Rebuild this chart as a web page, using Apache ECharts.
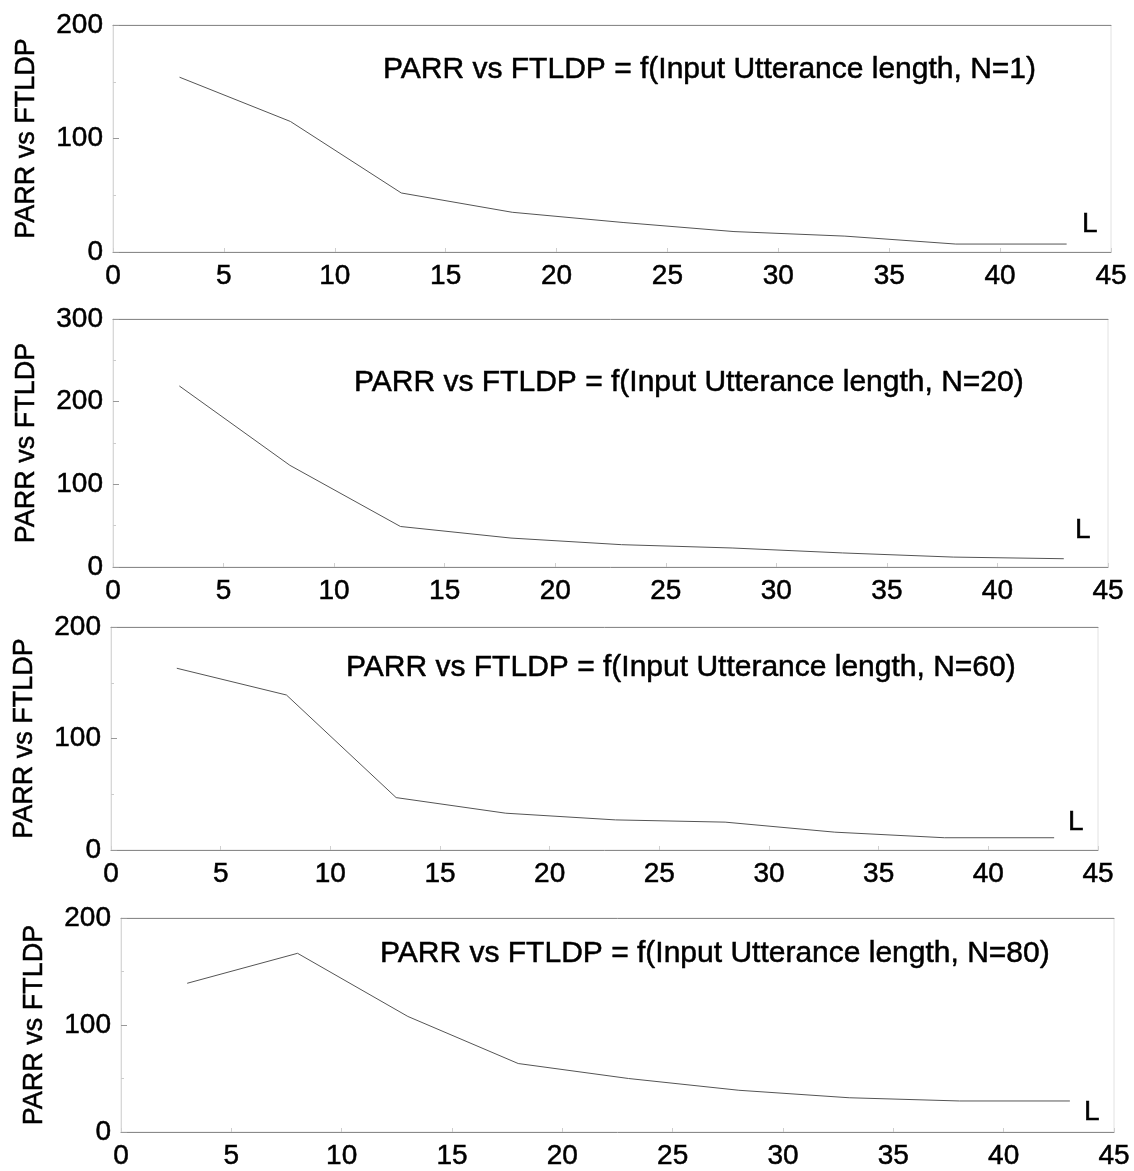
<!DOCTYPE html>
<html>
<head>
<meta charset="utf-8">
<script src="https://cdn.jsdelivr.net/npm/echarts@6/dist/echarts.min.js"></script>
<style>
	body { margin: 0; background: #fff; }
	#mychart { width: 1134px; height: 1171px; }
</style>
</head>
<body>
<div id="mychart"></div>
<script>
// input utterance length L
var lengths = [3, 8, 13, 18, 23, 28, 33, 38, 43];
// PARR vs FTLDP for each N
var parrN1 = [154, 115, 52, 35, 26, 18, 14, 7, 7];
var parrN20 = [219, 123, 49, 35, 27, 23, 17, 12, 10];
var parrN60 = [163, 139, 47, 33, 27, 25, 16, 11, 11];
var parrN80 = [139, 167, 108, 64, 50, 39, 32, 29, 29];
var nValues = [1, 20, 60, 80];
var yMaxes = [200, 300, 200, 200];

var allSeries = [parrN1, parrN20, parrN60, parrN80];
var font = '"Liberation Sans", Arial, sans-serif';

// pixel boxes of the four plots
var boxes = [
	{ left: 113, top: 25, right: 1111, bottom: 252 },
	{ left: 113, top: 319, right: 1108, bottom: 567 },
	{ left: 111, top: 627, right: 1098, bottom: 850 },
	{ left: 121, top: 918, right: 1114, bottom: 1132 }
];
var titlePos = [[383, 55], [354, 368], [346, 653], [380, 939]];
var lPos = [[1082, 210], [1075, 516], [1068, 808], [1084, 1098]];

window.onload = function() {
	var myChart = echarts.init(document.getElementById('mychart'));
	var grid = [], xAxis = [], yAxis = [], series = [], title = [];
	// scanned text looks a bit heavier than plain Arial
	var ink = { textBorderColor: '#000', textBorderWidth: 0.5 };

	for (var i = 0; i < 4; i++) {
		var b = boxes[i];
		grid.push({
			left: b.left,
			top: b.top,
			width: b.right - b.left,
			height: b.bottom - b.top,
			show: true,
			borderColor: '#e2e2e2',
			borderWidth: 1
		});
		xAxis.push({
			type: 'value',
			gridIndex: i,
			min: 0,
			max: 45,
			interval: 5,
			axisLine: { show: true, lineStyle: { color: '#8a8a8a', width: 1 } },
			axisTick: { show: true, inside: true, length: 4, lineStyle: { color: '#cfcfcf' } },
			axisLabel: echarts.util.extend({ color: '#000', fontSize: 28, fontFamily: font, margin: 10 }, ink),
			splitLine: { show: false }
		});
		// top frame line
		xAxis.push({
			type: 'value',
			gridIndex: i,
			position: 'top',
			min: 0,
			max: 45,
			interval: 5,
			axisLine: { show: true, onZero: false, lineStyle: { color: '#8a8a8a', width: 1 } },
			axisTick: { show: false },
			axisLabel: { show: false },
			splitLine: { show: false }
		});
		yAxis.push({
			type: 'value',
			gridIndex: i,
			min: 0,
			max: yMaxes[i],
			interval: 100,
			name: 'PARR vs FTLDP',
			nameLocation: 'middle',
			nameGap: 73,
			nameTextStyle: echarts.util.extend({ color: '#000', fontSize: 27, fontFamily: font }, ink),
			axisLine: { show: true, lineStyle: { color: '#d8d8d8' } },
			axisTick: { show: true, inside: true, length: 6, lineStyle: { color: '#999' } },
			minorTick: { show: true, splitNumber: 2, length: 3, lineStyle: { color: '#ccc' } },
			axisLabel: echarts.util.extend({ color: '#000', fontSize: 28, fontFamily: font, margin: 10 }, ink),
			splitLine: { show: false }
		});
		var pts = [];
		for (var j = 0; j < lengths.length; j++) {
			pts.push([lengths[j], allSeries[i][j]]);
		}
		series.push({
			type: 'line',
			xAxisIndex: i * 2,
			yAxisIndex: i,
			data: pts,
			showSymbol: false,
			lineStyle: { color: '#555', width: 1 },
			silent: true
		});
		title.push({
			text: 'PARR vs FTLDP = f(Input Utterance length, N=' + nValues[i] + ')',
			left: titlePos[i][0],
			top: titlePos[i][1],
			padding: 0,
			textStyle: echarts.util.extend({ color: '#000', fontSize: 30, fontWeight: 'normal', fontFamily: font }, ink)
		});
		title.push({
			text: 'L',
			left: lPos[i][0],
			top: lPos[i][1],
			padding: 0,
			textStyle: echarts.util.extend({ color: '#000', fontSize: 28, fontWeight: 'normal', fontFamily: font }, ink)
		});
	}

	var option = {
		backgroundColor: '#fff',
		animation: false,
		title: title,
		grid: grid,
		xAxis: xAxis,
		yAxis: yAxis,
		series: series
	};
	myChart.setOption(option);
};
</script>
</body>
</html>
